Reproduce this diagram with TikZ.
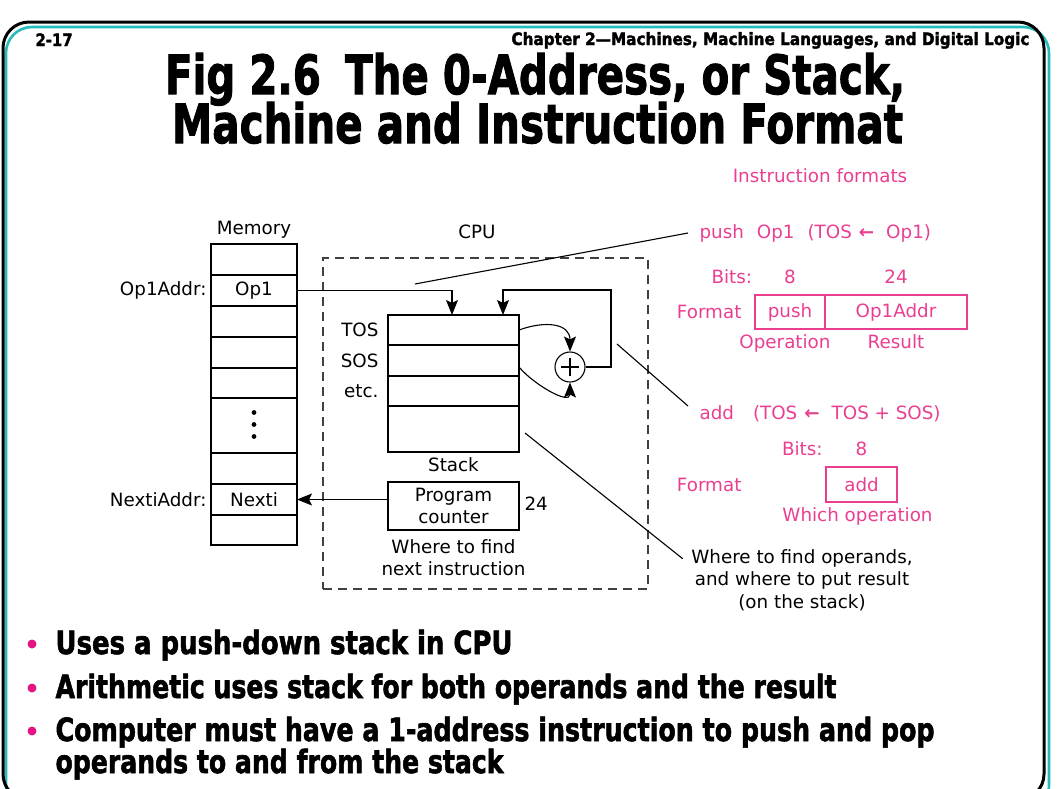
\documentclass[tikz,border=0pt]{standalone}
\usepackage{fontspec}
\setmainfont{DejaVu Sans}
\newfontfamily\headfont{DejaVu Sans}[BoldFeatures={FakeBold=2}]
\usepackage{graphicx}
\usetikzlibrary{positioning,arrows.meta,calc}
\definecolor{fmtpink}{RGB}{234,62,144}
\definecolor{bulletpink}{RGB}{228,20,130}
\definecolor{frameteal}{RGB}{38,188,188}
\newcommand{\fitto}[2]{\resizebox{#1}{\height}{#2}}

\begin{document}
\begin{tikzpicture}[
    x=1pt, y=-1pt,
    line width=1.1pt,
    node distance=5pt,
    txt/.style={font=\fontsize{18.3}{22.5}\selectfont, inner sep=0pt},
    fmt/.style={txt, text=fmtpink},
    memcell/.style={draw, txt, minimum width=86pt, minimum height=31pt, outer sep=0pt},
    stkcell/.style={draw, minimum width=131pt, minimum height=30pt, outer sep=0pt, inner sep=0pt},
    fmtbox/.style={draw=fmtpink, fmt, minimum height=34pt, outer sep=0pt},
    head/.style={font=\headfont\bfseries\fontsize{54}{54}\selectfont, inner sep=0pt, anchor=base},
    small/.style={font=\headfont\bfseries\fontsize{17}{17}\selectfont, inner sep=0pt},
    bull/.style={font=\headfont\bfseries\fontsize{32}{32}\selectfont, inner sep=0pt, anchor=base west},
    arr/.style={-{Stealth[length=15pt,width=12pt,inset=3pt]}}
  ]
    \useasboundingbox (0,0) rectangle (1063,788);
    \clip (0,0) rectangle (1063,788);

    % slide frame
    \draw[frameteal, line width=2.6pt, rounded corners=26pt] (6,27) rectangle (1049,812);
    \draw[line width=3pt, rounded corners=26pt] (3,22) rectangle (1044,800);

    \node (slideno) [small, anchor=base west] at (35,46) {\fitto{37pt}{2-17}};
    \node (chapter) [small, anchor=base east] at (1030,45) {\fitto{518pt}{Chapter 2—Machines, Machine Languages, and Digital Logic}};
    \node (title1) [head] at (535,94) {\fitto{740pt}{Fig 2.6\hspace{0.6em}The 0-Address, or Stack,}};
    \node (title2) [head] at (537.5,143) {\fitto{731pt}{Machine and Instruction Format}};

    % memory
    \node (mem0) [memcell] at (254,259.5) {};
    \node (mem1) [memcell, below=0pt of mem0] {Op1};
    \node (mem2) [memcell, below=0pt of mem1] {};
    \node (mem3) [memcell, below=0pt of mem2] {};
    \node (mem4) [memcell, below=0pt of mem3, minimum height=30pt] {};
    \node (mem5) [memcell, below=0pt of mem4, minimum height=55pt] {};
    \node (mem6) [memcell, below=0pt of mem5] {};
    \node (mem7) [memcell, below=0pt of mem6] {Nexti};
    \node (mem8) [memcell, below=0pt of mem7, minimum height=30pt] {};
    \foreach \dy in {-13,-1,11}
      \fill ($(mem5.center)+(0,\dy)$) circle (2.4pt);
    \node (memlbl) [txt, above=5pt of mem0] {Memory};
    \node (op1addr) [txt, left=4pt of mem1] {Op1Addr:};
    \node (nextiaddr) [txt, left=4pt of mem7] {NextiAddr:};

    % cpu
    \node (cpu) [draw=black!75, dash pattern=on 9pt off 6pt, minimum width=325pt, minimum height=331pt, inner sep=0pt] at (485.5,423.5) {};
    \node (cpulbl) [txt] at (477,232) {CPU};

    \node (stk0) [stkcell] at (453.5,330) {};
    \node (stk1) [stkcell, below=0pt of stk0, minimum height=31pt] {};
    \node (stk2) [stkcell, below=0pt of stk1] {};
    \node (stk3) [stkcell, below=0pt of stk2, minimum height=46pt] {};
    \node (toslbl) [txt, left=9pt of stk0] {TOS};
    \node (soslbl) [txt, left=9pt of stk1] {SOS};
    \node (etclbl) [txt, left=9pt of stk2] {etc.};
    \node (stklbl) [txt, below=5.5pt of stk3] {Stack};

    \node (pc) [stkcell, txt, minimum height=48pt, align=center] at (453.5,506) {Program\\counter};
    \node (pcbits) [txt, right=5pt of pc, yshift=2pt] {24};
    \node (pcnote) [txt, align=center, below=9pt of pc] {Where to find\\next instruction};

    \node (adder) [circle, draw, minimum size=30pt, inner sep=0pt] at (570,367) {};
    \draw (adder.center) ++(-9,0) -- ++(18,0);
    \draw (adder.center) ++(0,-9) -- ++(0,18);

    \coordinate (loopcorner) at (611,290);
    \draw[arr] (mem1.east) -| ([xshift=-1.5pt]stk0.north);
    \draw[arr] (adder.east) -| (loopcorner) -| ([xshift=49.5pt]stk0.north);
    \draw[arr] (stk0.east) to[out=20, in=90, looseness=1.3] (adder.north);
    \draw[arr] ([yshift=-6.5pt]stk1.east) to[out=-50, in=-90, looseness=1.1] (adder.south);
    \draw[arr] (pc.west |- mem7.east) -- (mem7.east);

    % instruction formats
    \node (fmttitle) [fmt] at (820,176) {Instruction formats};
    \node (pushfmt) [fmt, anchor=west] at (699,233) {push\hspace{13pt}Op1\hspace{13pt}(TOS\hspace{7pt}\textbf{←}\hspace{12pt}Op1)};

    \node (fpush) [fmtbox, minimum width=70pt] at (790,312) {push};
    \node (fop1) [fmtbox, minimum width=142pt, right=0pt of fpush] {Op1Addr};
    \node (fmtlbl1) [fmt, left=13pt of fpush] {Format};
    \node (bits8) [fmt, above=10.5pt of fpush] {8};
    \node (bits24) [fmt, above=10.5pt of fop1] {24};
    \node (bitslbl1) [fmt, left=31pt of bits8] {Bits:};
    \node (oplbl) [fmt, below=5pt of fpush, xshift=-5pt] {Operation};
    \node (reslbl) [fmt, below=5pt of fop1] {Result};

    \node (addfmt) [fmt, anchor=west] at (699,414) {add\hspace{19pt}(TOS\hspace{7pt}\textbf{←}\hspace{12pt}TOS + SOS)};

    \node (fadd) [fmtbox, minimum width=71pt, minimum height=35pt] at (861.5,484.5) {add};
    \node (fmtlbl2) [fmt, anchor=east] at (fmtlbl1.east |- fadd) {Format};
    \node (addbits8) [fmt, above=10.5pt of fadd] {8};
    \node (bitslbl2) [fmt, left=32pt of addbits8] {Bits:};
    \node (whichlbl) [fmt, below=5pt of fadd, xshift=-4pt] {Which operation};

    \node (opsnote) [txt, align=center] at (802,580) {Where to find operands,\\and where to put result\\(on the stack)};

    % pointer lines
    \coordinate (pushtip) at (415,284);
    \coordinate (addtip) at (617,344);
    \coordinate (opstip) at (525,433);
    \draw (pushtip) -- ([xshift=-11pt]pushfmt.west);
    \draw (addtip) -- ([xshift=-11pt, yshift=8pt]addfmt.west);
    \draw (opstip) -- ([xshift=-8pt, yshift=-10pt]opsnote.north west);

    % bullets
    \node (pt1) [bull] at (55,654) {\fitto{457pt}{Uses a push-down stack in CPU}};
    \node (pt2) [bull] at (55,698) {\fitto{781pt}{Arithmetic uses stack for both operands and the result}};
    \node (pt3) [bull] at (55,741) {\fitto{879pt}{Computer must have a 1-address instruction to push and pop}};
    \node (pt4) [bull] at (55,773) {\fitto{448pt}{operands to and from the stack}};
    \foreach \by in {644,688,731}
      \fill[bulletpink] (32,\by) circle (4.5pt);
  \end{tikzpicture}
\end{document}
